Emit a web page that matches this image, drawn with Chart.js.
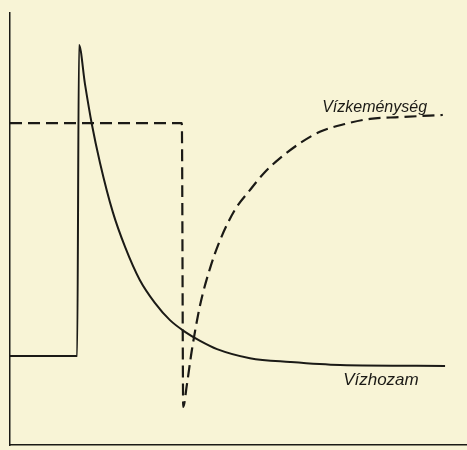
<!DOCTYPE html>
<html>
<head>
<meta charset="utf-8">
<script src="https://cdn.jsdelivr.net/npm/chart.js@4/dist/chart.umd.min.js"></script>
<style>
  html, body { margin: 0; padding: 0; background: #f8f4d6; }
  #wrap { width: 467px; height: 450px; position: relative; }
</style>
</head>
<body>
<div id="wrap"><canvas id="chart"></canvas></div>
<script>
// Vízhozam (solid), arbitrary units 0..100
const hozamX = [0, 14.7, 15.1, 16.4, 17.9, 19.7, 22.5, 25.2, 28.4, 31.7, 35.0, 38.3, 41.6, 45.3, 52.5, 61.3, 72.2, 95.2];
const hozamY = [20.6, 20.6, 92.6, 83.6, 74.3, 65.3, 53.9, 45.8, 38.2, 32.9, 28.9, 26.2, 24.1, 22.2, 20.1, 19.2, 18.5, 18.3];

// Vízkeménység (dashed)
const kemX = [0, 37.6, 37.9, 38.7, 39.8, 41.6, 43.8, 46.0, 49.2, 52.5, 55.8, 59.1, 63.5, 67.8, 73.3, 78.8, 85.3, 94.7];
const kemY = [74.5, 74.5, 8.8, 13.9, 22.0, 32.4, 41.0, 47.5, 54.4, 59.0, 63.2, 66.4, 69.9, 72.5, 74.3, 75.5, 75.9, 76.4];

const seriesNames = ['Vízhozam', 'Vízkeménység'];
const labelAt = [[72.9, 13.9], [68.3, 77.1]];

const ink = '#1b1a16';

const toPoints = (xs, ys) => xs.map((x, i) => ({ x: x, y: ys[i] }));

const seriesLabels = {
  id: 'seriesLabels',
  afterDatasetsDraw(chart) {
    const { ctx, scales } = chart;
    const fonts = ['italic 17px "Liberation Sans"', 'italic 16px "Liberation Sans"'];
    ctx.save();
    ctx.fillStyle = ink;
    ctx.textAlign = 'left';
    ctx.textBaseline = 'alphabetic';
    seriesNames.forEach((name, i) => {
      ctx.font = fonts[i];
      ctx.fillText(name, scales.x.getPixelForValue(labelAt[i][0]), scales.y.getPixelForValue(labelAt[i][1]));
    });
    ctx.restore();
  }
};

const ctx = document.getElementById('chart').getContext('2d');
new Chart(ctx, {
  type: 'scatter',
  data: {
    datasets: [{
      label: seriesNames[0],
      data: toPoints(hozamX, hozamY),
      showLine: true,
      borderColor: ink,
      borderWidth: 2,
      pointRadius: 0,
      cubicInterpolationMode: 'monotone',
      clip: false
    }, {
      label: seriesNames[1],
      data: toPoints(kemX, kemY),
      showLine: true,
      borderColor: ink,
      borderWidth: 2.2,
      borderDash: [12, 6],
      pointRadius: 0,
      cubicInterpolationMode: 'monotone',
      clip: false
    }]
  },
  options: {
    responsive: true,
    maintainAspectRatio: false,
    animation: false,
    layout: { padding: { top: 13, left: 10, right: 0, bottom: 5 } },
    scales: {
      x: {
        type: 'linear', min: 0, max: 100,
        ticks: { display: false },
        grid: { display: false, drawTicks: false },
        border: { display: true, color: ink, width: 1.5 }
      },
      y: {
        min: 0, max: 100,
        ticks: { display: false },
        grid: { display: false, drawTicks: false },
        border: { display: true, color: ink, width: 1.5 }
      }
    },
    plugins: {
      legend: { display: false },
      tooltip: { enabled: false }
    }
  },
  plugins: [seriesLabels]
});
</script>
</body>
</html>
